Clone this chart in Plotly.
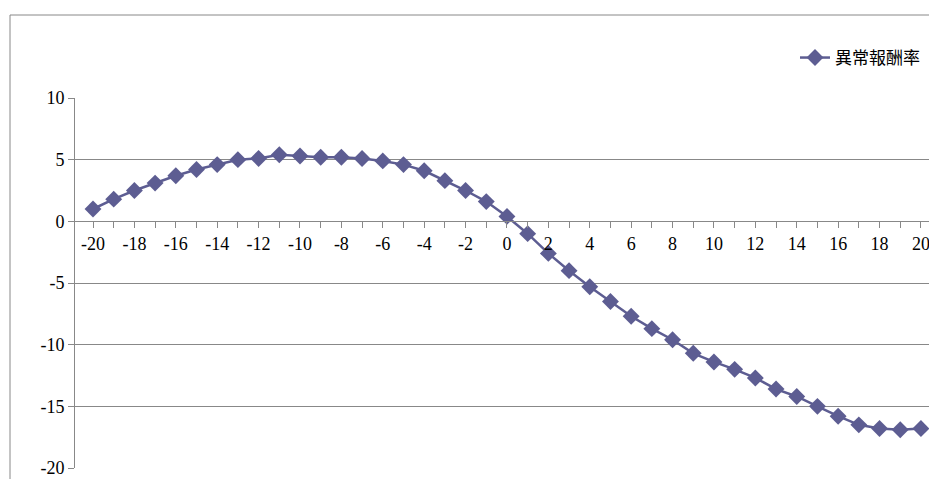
import plotly.graph_objects as go

days = list(range(-20, 21))
abnormal_return = [1.0, 1.8, 2.5, 3.1, 3.7, 4.2, 4.6, 5.0, 5.1, 5.4, 5.3, 5.2, 5.2, 5.1, 4.9, 4.6, 4.1, 3.3, 2.5, 1.6,
                   0.4, -1.0, -2.6, -4.0, -5.3, -6.5, -7.7, -8.7, -9.6, -10.7, -11.4, -12.0, -12.7, -13.6, -14.2, -15.0,
                   -15.8, -16.5, -16.8, -16.9, -16.8]
y_ticks = [10, 5, 0, -5, -10, -15, -20]
series_name = "異常報酬率"
color = "#5d5d92"

fig = go.Figure(go.Scatter(x=days, y=abnormal_return, mode="lines+markers", name=series_name,
                           line=dict(color=color, width=2.5),
                           marker=dict(symbol="diamond", size=13, color=color)))

H, T, B = 479, 98, 11
dom_h = H - T - B
fig.update_layout(
    width=929, height=H, margin=dict(l=75, r=0, t=T, b=B),
    paper_bgcolor="white", plot_bgcolor="white",
    font=dict(family="Liberation Serif", size=18, color="black"),
    showlegend=True,
    legend=dict(x=(795 - 75) / 854, xanchor="left", y=(H - 58 - B) / dom_h, yanchor="middle",
                font=dict(family="Noto Sans CJK TC", size=17)),
    xaxis=dict(range=[-20.87, 20.39], tickvals=days,
               ticktext=[str(d) if d % 2 == 0 else "" for d in days], ticklabeloverflow="allow",
               anchor="free", position=2/3, showline=True, linecolor="#888", showgrid=False,
               ticks="outside", ticklen=6, tickcolor="#888", zeroline=False),
    yaxis=dict(range=[-20, 10], tickvals=y_ticks, ticktext=[str(v) for v in y_ticks],
               showgrid=True, gridcolor="#888", gridwidth=1,
               showline=True, linecolor="#888", ticks="outside", ticklen=6, tickcolor="#888",
               zeroline=False),
    shapes=[dict(type="line", xref="paper", yref="paper", x0=-65/854, x1=-65/854, y0=-0.1, y1=(H - 15 - B) / dom_h,
                 line=dict(color="#888", width=1)),
            dict(type="line", xref="paper", yref="paper", x0=-65/854, x1=1.1, y0=(H - 15 - B) / dom_h,
                 y1=(H - 15 - B) / dom_h, line=dict(color="#888", width=1))],
)
fig.write_html("out.html", config={"displayModeBar": False},
               post_script="document.body.style.margin='0';document.body.style.overflow='hidden';")
